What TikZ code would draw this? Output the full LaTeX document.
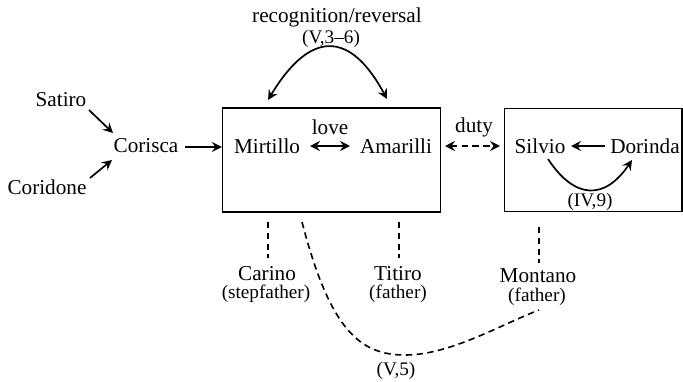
\documentclass[tikz,border=0pt]{standalone}
\usepackage{fontspec}
\setmainfont{Liberation Serif}
\usetikzlibrary{arrows.meta}
\begin{document}
\begin{tikzpicture}[x=0.5pt,y=-0.5pt,
  nm/.style={font=\fontsize{10.6}{12}\selectfont, inner sep=1pt},
  small/.style={font=\fontsize{9.6}{11}\selectfont, inner sep=1pt, align=center},
  tip/.tip={Stealth[length=5pt,width=5pt,inset=1.8pt]},
  arr/.style={-tip, line width=0.85pt},
  darr/.style={tip-tip, line width=0.85pt},
  dline/.style={dash pattern=on 3.2pt off 2.2pt, line width=0.8pt},
  box/.style={draw, line width=0.7pt}]
\useasboundingbox (0,0) rectangle (683,381);
\node[box, minimum width=109pt, minimum height=52pt] (b1) at (331.5,160) {};
\node[box, minimum width=88.9pt, minimum height=51.5pt] (b2) at (593.2,160) {};
\node[nm] (sat) at (61,100) {Satiro};
\node[nm] (cor) at (47,187) {Coridone};
\node[nm] (cka) at (146,146) {Corisca};
\node[nm] (mir) at (267,146) {Mirtillo};
\node[nm] (ama) at (396,146) {Amarilli};
\node[nm] (lov) at (330,127) {love};
\node[nm] (rec) at (337,17) {recognition/reversal};
\node[small] (v36) at (331,39) {(V,3–6)};
\node[nm] (dut) at (474,127) {duty};
\node[nm] (sil) at (540,146) {Silvio};
\node[nm] (dor) at (645,146) {Dorinda};
\node[small] (iv9) at (590,202) {(IV,9)};
\node[nm] (car) at (267,274) {Carino};
\node[small] (carf) at (266,294) {(stepfather)};
\node[nm] (tit) at (398,274) {Titiro};
\node[small] (titf) at (398,294) {(father)};
\node[nm] (mon) at (538,276) {Montano};
\node[small] (monf) at (537,297) {(father)};
\node[small] (v5) at (396,371) {(V,5)};
\coordinate (s1) at (89,110); \coordinate (s2) at (113,133);
\coordinate (c1) at (90,178); \coordinate (c2) at (112,160);
\draw[arr] (s1) -- (s2);
\draw[arr] (c1) -- (c2);
\coordinate (k1) at (185,147);
\draw[arr] (k1) -- (b1.west |- k1);
\coordinate (m1) at (310,146); \coordinate (a1) at (350,146);
\draw[darr] (m1) -- (a1);
\coordinate (r1) at (268,100); \coordinate (r2) at (387,99);
\draw[darr] (r1) .. controls (310,30) and (350,30) .. (r2);
\coordinate (d1) at (445,146); \coordinate (d2) at (500,146);
\draw[darr, dline] (d1) -- (d2);
\coordinate (o1) at (605,146); \coordinate (o2) at (571,146);
\draw[arr] (o1) -- (o2);
\coordinate (q1) at (548,159); \coordinate (q2) at (632,160);
\draw[arr] (q1) .. controls (575,200) and (605,200) .. (q2);
\coordinate (l1) at (268,222); \coordinate (l2) at (399,222); \coordinate (l3) at (539,227);
\draw[dline] (l1) -- (l1 |- 0,258);
\draw[dline] (l2) -- (l2 |- 0,258);
\draw[dline] (l3) -- (l3 |- 0,263);
\coordinate (v1) at (302,222); \coordinate (v2) at (539,310); \coordinate (vb) at (405,355);
\draw[dline] (v1) .. controls (330,330) and (360,355) .. (vb) .. controls (450,355) and (500,325) .. (v2);
\end{tikzpicture}
\end{document}
